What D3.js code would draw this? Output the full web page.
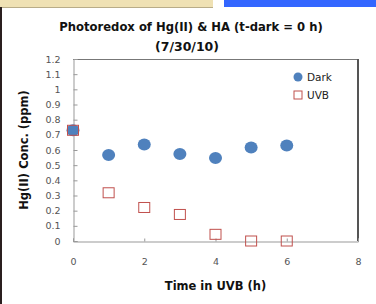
<!DOCTYPE html>
<html>
<head>
<meta charset="utf-8">
<script src="https://cdn.jsdelivr.net/npm/d3@7/dist/d3.min.js"></script>
<style>
  html, body { margin: 0; padding: 0; background: #fff; }
  svg { display: block; }
</style>
</head>
<body>
<div id="chart"></div>
<script>
// Hg(II) photoredox scatter: dark control vs UVB exposure
const W = 376;
const H = 304;

const hours = [0, 1, 2, 3, 4, 5, 6];
const darkConc = [0.73, 0.567, 0.636, 0.574, 0.548, 0.616, 0.629];
const uvbConc = [0.73, 0.318, 0.221, 0.175, 0.044, 0, 0];
const xTicks = [0, 2, 4, 6, 8];
const yTicks = [0, 0.1, 0.2, 0.3, 0.4, 0.5, 0.6, 0.7, 0.8, 0.9, 1, 1.1, 1.2];

const BLUE = '#4f81bd';
const RED = '#c0504d';
const FONT = 'DejaVu Sans, Verdana, sans-serif';

const plot = { left: 73, right: 358, top: 59, bottom: 241 };

const svg = d3.select('#chart').append('svg')
  .attr('width', W).attr('height', H);

// slide chrome: top strip + left edge
svg.append('rect').attr('x', 0).attr('y', 0).attr('width', 213).attr('height', 7).attr('fill', '#efe1b4');
svg.append('line').attr('x1', 0).attr('x2', 213).attr('y1', 7.5).attr('y2', 7.5).attr('stroke', '#b8ac88');
svg.append('rect').attr('x', 224).attr('y', 0).attr('width', W - 224).attr('height', 7).attr('fill', '#3366ff');
svg.append('rect').attr('x', 0).attr('y', 7).attr('width', 2).attr('height', H - 7).attr('fill', '#2a1f1f');

const x = d3.scaleLinear().domain([0, 8]).range([plot.left, plot.right]);
const y = d3.scaleLinear().domain([0, 1.2]).range([plot.bottom, plot.top]);

// frame
svg.append('line').attr('x1', plot.left).attr('x2', plot.right).attr('y1', plot.top + 0.5).attr('y2', plot.top + 0.5)
  .attr('stroke', '#777').attr('stroke-width', 1.2);
svg.append('line').attr('x1', plot.right).attr('x2', plot.right).attr('y1', plot.top).attr('y2', plot.bottom)
  .attr('stroke', '#555').attr('stroke-width', 2);

const yAxis = svg.append('g')
  .attr('transform', `translate(${plot.left + 0.5},0)`)
  .call(d3.axisRight(y).tickValues(yTicks).tickSize(4).tickFormat(d3.format('~g')));
yAxis.select('.domain').attr('stroke', '#999');
yAxis.selectAll('.tick line').attr('stroke', '#999');
yAxis.selectAll('.tick text')
  .attr('x', -13).attr('text-anchor', 'end')
  .attr('font-family', FONT).attr('font-size', 9.5).attr('fill', '#555');

const xAxis = svg.append('g')
  .attr('transform', `translate(0,${plot.bottom + 0.5})`)
  .call(d3.axisTop(x).tickValues(xTicks).tickSize(3).tickFormat(d3.format('d')));
xAxis.select('.domain').attr('stroke', '#999');
xAxis.selectAll('.tick line').attr('stroke', '#999');
xAxis.selectAll('.tick text')
  .attr('y', 20).attr('dy', '0.35em')
  .attr('font-family', FONT).attr('font-size', 9.5).attr('fill', '#555');

// series
svg.append('g').selectAll('ellipse')
  .data(hours.map((h, i) => ({ h, v: darkConc[i] })))
  .join('ellipse')
  .attr('cx', d => x(d.h)).attr('cy', d => y(d.v))
  .attr('rx', 6.5).attr('ry', 6)
  .attr('fill', BLUE);

svg.append('g').selectAll('rect')
  .data(hours.map((h, i) => ({ h, v: uvbConc[i] })))
  .join('rect')
  .attr('x', d => x(d.h) - 5.5).attr('y', d => y(d.v) - 5)
  .attr('width', 11).attr('height', 10)
  .attr('fill', 'none').attr('stroke', RED).attr('stroke-width', 1);

// titles
svg.append('text').attr('x', 191).attr('y', 31).attr('text-anchor', 'middle')
  .attr('font-family', FONT).attr('font-weight', 'bold').attr('font-size', 11.6).attr('fill', '#111')
  .text('Photoredox of Hg(II) & HA (t-dark = 0 h)');
svg.append('text').attr('x', 187).attr('y', 51).attr('text-anchor', 'middle')
  .attr('font-family', FONT).attr('font-weight', 'bold').attr('font-size', 12.5).attr('fill', '#111')
  .text('(7/30/10)');

svg.append('text').attr('x', (plot.left + plot.right) / 2).attr('y', 290).attr('text-anchor', 'middle')
  .attr('font-family', FONT).attr('font-weight', 'bold').attr('font-size', 11.5).attr('fill', '#111')
  .text('Time in UVB (h)');

svg.append('text')
  .attr('transform', `translate(28,${(plot.top + plot.bottom) / 2}) rotate(-90)`)
  .attr('text-anchor', 'middle')
  .attr('font-family', FONT).attr('font-weight', 'bold').attr('font-size', 11.5).attr('fill', '#111')
  .text('Hg(II) Conc. (ppm)');

// legend
const legend = svg.append('g').attr('transform', 'translate(298,77)');
legend.append('circle').attr('cx', 0).attr('cy', 0).attr('r', 4.5).attr('fill', BLUE);
legend.append('text').attr('x', 9).attr('y', 0).attr('dy', '0.35em')
  .attr('font-family', FONT).attr('font-size', 10.5).attr('fill', '#222').text('Dark');
legend.append('rect').attr('x', -4).attr('y', 14).attr('width', 8).attr('height', 8)
  .attr('fill', 'none').attr('stroke', RED);
legend.append('text').attr('x', 9).attr('y', 18).attr('dy', '0.35em')
  .attr('font-family', FONT).attr('font-size', 10.5).attr('fill', '#222').text('UVB');
</script>
</body>
</html>
